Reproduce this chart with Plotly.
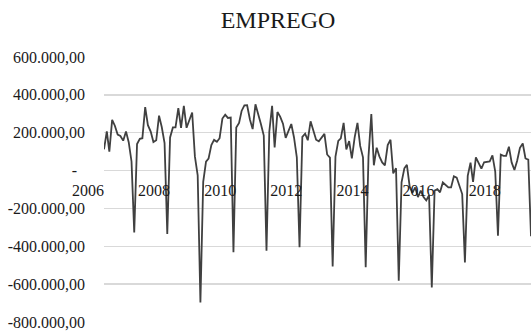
import pandas as pd
import plotly.graph_objects as go

# Monthly net formal employment, Jan 2006 - Dec 2018 (thousands)
start_month = "2006-01-01"
values_2006 = [112, 207, 100, 268, 237, 190, 183, 158, 207, 150, 48, -327]
values_2007 = [140, 168, 171, 335, 240, 206, 151, 160, 290, 230, 145, -335]
values_2008 = [175, 228, 228, 330, 226, 342, 226, 263, 307, 75, -25, -697]
values_2009 = [-60, 47, 63, 135, 162, 152, 171, 275, 295, 278, 280, -432]
values_2010 = [228, 252, 315, 344, 345, 270, 219, 350, 300, 245, 185, -423]
values_2011 = [205, 342, 122, 309, 285, 248, 173, 210, 246, 175, 70, -405]
values_2012 = [178, 195, 160, 260, 205, 163, 155, 172, 194, 85, 68, -507]
values_2013 = [74, 157, 170, 252, 112, 156, 65, 175, 252, 130, 70, -510]
values_2014 = [75, 298, 28, 121, 75, 43, 27, 135, 163, -15, 12, -582]
values_2015 = [-62, 12, 30, -85, -118, -89, -140, -106, -140, -158, -130, -617]
values_2016 = [-106, -98, -115, -63, -75, -89, -89, -30, -37, -85, -124, -485]
values_2017 = [-28, 42, -60, 70, 44, 10, 44, 46, 48, 80, -5, -344]
values_2018 = [84, 78, 78, 126, 43, 3, 52, 120, 143, 64, 58, -347]

emprego_k = (values_2006 + values_2007 + values_2008 + values_2009 + values_2010
             + values_2011 + values_2012 + values_2013 + values_2014 + values_2015
             + values_2016 + values_2017 + values_2018)
emprego = [v * 1000 for v in emprego_k]
months = pd.date_range(start_month, periods=len(emprego), freq="MS")

x_tick_years = ["2006", "2008", "2010", "2012", "2014", "2016", "2018"]
y_tick_vals = [600000, 400000, 200000, 0, -200000, -400000, -600000, -800000]
y_tick_text = ["600.000,00", "400.000,00", "200.000,00", "-\u00a0\u00a0",
               "-200.000,00", "-400.000,00", "-600.000,00", "-800.000,00"]

fig = go.Figure()
fig.add_trace(go.Scatter(
    x=months, y=emprego, mode="lines",
    line=dict(color="#404040", width=1.8),
    hoverinfo="skip", showlegend=False,
))

font_family = "Liberation Serif"
ymin, ymax = -800000, 600000
fig.update_layout(
    width=531, height=336,
    margin=dict(l=104, r=0, t=57, b=14),
    paper_bgcolor="white", plot_bgcolor="white",
    font=dict(family=font_family, size=16, color="#1a1a1a"),
    title=dict(text="EMPREGO", font=dict(family=font_family, size=24, color="#1a1a1a"),
               xref="container", x=278 / 531, xanchor="center",
               yref="container", y=1 - 20 / 336, yanchor="middle"),
    xaxis=dict(
        type="date",
        range=[months[0], months[-1]],
        tickvals=[f"{y}-01-01" for y in x_tick_years],
        ticktext=x_tick_years,
        ticklabelposition="outside left",
        ticklabelstandoff=8,
        showgrid=False, zeroline=False, showline=False,
        ticks="", anchor="free",
        position=(0 - ymin) / (ymax - ymin),
    ),
    yaxis=dict(
        range=[ymin, ymax],
        tickvals=y_tick_vals, ticktext=y_tick_text,
        showgrid=True, gridcolor="#d9d9d9", gridwidth=1.3,
        zeroline=False, showline=False, ticks="",
        ticklabelstandoff=18,
    ),
)

fig.write_html("out.html",
               config={"displayModeBar": False, "staticPlot": True},
               post_script="document.body.style.margin='0';document.body.style.overflow='hidden';")
